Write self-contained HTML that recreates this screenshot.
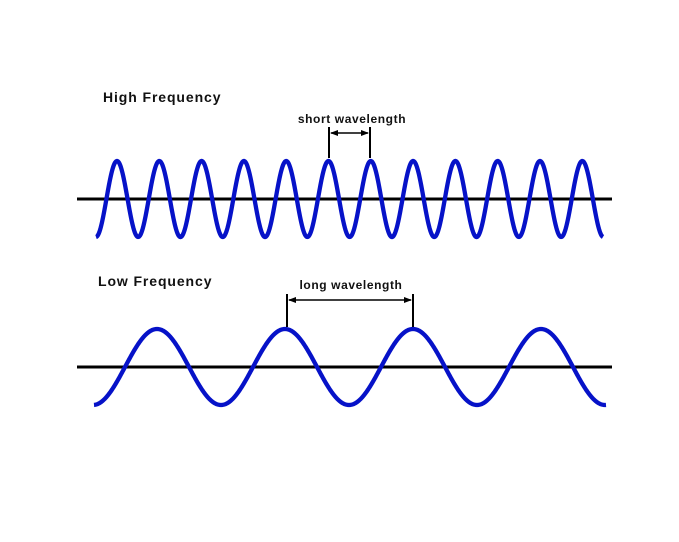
<!DOCTYPE html>
<html><head><style>
html,body{margin:0;padding:0;background:#fff;width:679px;height:542px;overflow:hidden}
svg{display:block}
text{font-family:"Liberation Sans",sans-serif;font-weight:bold;fill:#111}
</style></head><body>
<svg id="s" width="679" height="542" viewBox="0 0 679 542">
<defs>
<marker id="a" markerWidth="8" markerHeight="6" refX="7" refY="3" orient="auto" markerUnits="userSpaceOnUse"><path d="M0,0 L8,3 L0,6 Z" fill="#000"/></marker>
<marker id="b" markerWidth="8" markerHeight="6" refX="1" refY="3" orient="auto" markerUnits="userSpaceOnUse"><path d="M8,0 L0,3 L8,6 Z" fill="#000"/></marker>
</defs>
<text x="103" y="102" font-size="14" letter-spacing="0.9">High Frequency</text>
<text x="98" y="286" font-size="14" letter-spacing="0.9">Low Frequency</text>
<line x1="77" y1="199" x2="612" y2="199" stroke="#000" stroke-width="3"/>
<line x1="77" y1="367" x2="612" y2="367" stroke="#000" stroke-width="3"/>
<path id="w1" fill="none" stroke="#0612c8" stroke-width="4.3"/>
<path id="w2" fill="none" stroke="#0612c8" stroke-width="4.3"/>
<text x="352" y="123" font-size="12" letter-spacing="0.6" text-anchor="middle">short wavelength</text>
<line x1="329" y1="127" x2="329" y2="158" stroke="#000" stroke-width="2"/>
<line x1="370" y1="127" x2="370" y2="158" stroke="#000" stroke-width="2"/>
<line x1="331" y1="133" x2="368" y2="133" stroke="#000" stroke-width="1.5" marker-start="url(#b)" marker-end="url(#a)"/>
<text x="351" y="289" font-size="12" letter-spacing="0.6" text-anchor="middle">long wavelength</text>
<line x1="287" y1="294" x2="287" y2="327" stroke="#000" stroke-width="2"/>
<line x1="413" y1="294" x2="413" y2="327" stroke="#000" stroke-width="2"/>
<line x1="289" y1="300" x2="411" y2="300" stroke="#000" stroke-width="1.5" marker-start="url(#b)" marker-end="url(#a)"/>
</svg>
<script>
function wave(id,x0,x1,peak,period,cy,amp){
 var d="";for(var x=x0;x<=x1;x+=0.5){var y=cy-amp*Math.cos(2*Math.PI*(x-peak)/period);d+=(d?"L":"M")+x.toFixed(1)+","+y.toFixed(2);}
 document.getElementById(id).setAttribute("d",d);}
wave("w1",96,603,117,42.3,199,38);
wave("w2",94,606,157,128,367,38);
</script>
</body></html>
